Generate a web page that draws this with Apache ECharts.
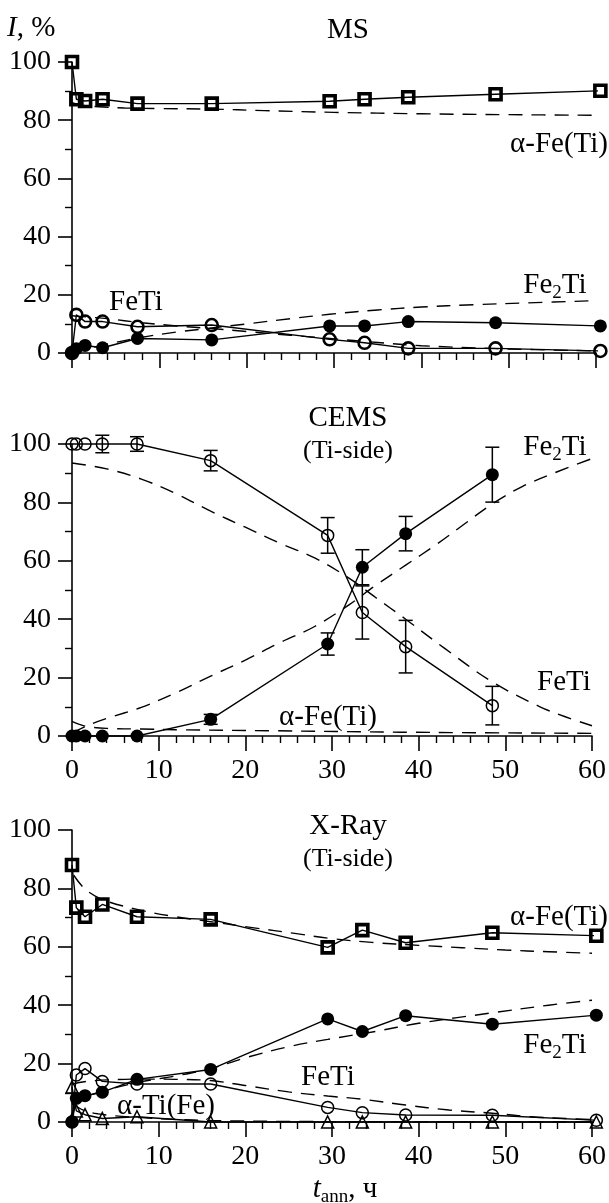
<!DOCTYPE html>
<html>
<head>
<meta charset="utf-8">
<script src="https://cdn.jsdelivr.net/npm/echarts@6/dist/echarts.min.js"></script>
<style>
  html, body { margin: 0; padding: 0; background: #fff; }
  #chart { width: 609px; height: 1203px; }
</style>
</head>
<body>
<div id="chart"></div>
<script>
// Annealing times, h
const hours = [0, 0.5, 1.5, 3.5, 7.5, 16, 29.5, 33.5, 38.5, 48.5, 60.5];
const cemsHours = [0, 0.5, 1.5, 3.5, 7.5, 16, 29.5, 33.5, 38.5, 48.5];

// MS: phase fractions, %
const msAlphaFe = [100, 87.2, 86.6, 87.2, 85.7, 85.7, 86.5, 87.2, 87.9, 88.9, 90.1];
const msFeTi    = [0, 13.1, 10.8, 10.8, 9.0, 9.6, 4.7, 3.5, 1.6, 1.6, 0.7];
const msFe2Ti   = [0, 1.5, 2.6, 1.8, 5.0, 4.5, 9.3, 9.3, 10.8, 10.4, 9.3];

// MS: model curves [t, %]
const msFitAlphaFe = [[0, 86], [1, 85.2], [3, 84.6], [6, 84.2], [10, 84], [16, 83.8], [22, 83.3], [30, 82.7], [40, 82.2], [50, 81.9], [60, 81.7]];
const msFitFeTi = [[0, 12.8], [2, 12.3], [4, 11.8], [8, 10.4], [12, 9.3], [16, 8.4], [20, 7.4], [25, 6.1], [29.5, 5.0], [35, 3.6], [40, 2.5], [48.5, 1.5], [60, 0.7]];
const msFitFe2Ti = [[0, 0], [2, 1.6], [4, 3.0], [8, 5.4], [12, 7.2], [16, 8.6], [20, 10.0], [25, 11.8], [29.5, 13.3], [35, 14.8], [40, 15.8], [46, 16.6], [52, 17.2], [60, 18.0]];

// CEMS (Ti-side): phase fractions and error half-widths, %
const cemsFeTi      = [100, 100, 100, 100, 100, 94.3, 68.7, 42.3, 30.6, 10.4];
const cemsFeTiErr   = [0, 0, 0, 3, 2.5, 3.5, 6.1, 9.1, 9, 6.6];
const cemsFe2Ti     = [0, 0, 0, 0, 0, 5.7, 31.5, 57.8, 69.3, 89.5];
const cemsFe2TiErr  = [0, 0, 0, 0, 0, 1.7, 3.8, 6, 5.9, 9.4];

// CEMS: model curves [t, %]
const cemsFitFeTi = [[0, 93.5], [4, 91.5], [8, 88], [12, 83], [16, 77], [20, 71.5], [24, 66], [28, 61], [32, 54], [35, 47.5], [38.5, 40], [43, 30], [48.5, 18.5], [54, 10], [57, 6.5], [60, 3.5]];
const cemsFitFe2Ti = [[0, 1], [2, 3.8], [4, 6], [8, 9.8], [12, 14.8], [16, 20.5], [20, 26], [24, 32], [28, 37.5], [32, 45], [35, 51.5], [38.5, 58.5], [42, 65.5], [45, 72], [48.5, 79.5], [52, 85.5], [56, 90.5], [60, 95]];
const cemsFitAlphaFe = [[0, 5], [1.5, 3.4], [4, 2.6], [8, 2.4], [13, 2.1], [23, 1.8], [38, 1.3], [60, 0.9]];

// X-Ray (Ti-side): phase fractions, %
const xrAlphaFe = [88, 73.4, 70.3, 74.5, 70.3, 69.4, 59.8, 65.7, 61.4, 64.8, 63.8];
const xrFeTi    = [0, 16.1, 18.3, 13.9, 13.0, 13.0, 5.0, 3.2, 2.4, 2.3, 0.6];
const xrFe2Ti   = [0, 8.1, 9.0, 10.2, 14.6, 18.0, 35.3, 31.0, 36.4, 33.5, 36.6];
const xrAlphaTi = [12, 3.8, 2.5, 1.2, 1.8, 0, 0, 0, 0, 0, 0];

// X-Ray: model curves [t, %]
const xrFitAlphaFe = [[0.2, 84.5], [1.5, 79.8], [3.5, 76.2], [7.5, 72.8], [11.5, 70.5], [16, 68.6], [21, 66.5], [25.7, 64.6], [29.7, 62.9], [34.6, 61.5], [40, 60.5], [45, 59.7], [50, 58.9], [55, 58.3], [60, 57.8]];
const xrFitFeTi = [[0, 13], [2, 14], [5, 14.5], [8, 14.7], [12, 14.6], [16, 14.2], [20, 12.5], [25, 10.3], [29.5, 8.9], [33.5, 7.8], [38.5, 5.8], [43.5, 4.1], [48.5, 3.0], [53, 1.8], [57, 1.2], [60, 0.8]];
const xrFitFe2Ti = [[0, 6], [1.5, 8.5], [3.5, 10.5], [7.5, 13.5], [12, 15.8], [16, 18.3], [20, 22], [25, 25.8], [29.5, 28.3], [35, 31], [40, 33.8], [48.5, 37.4], [55, 40], [60, 41.7]];
const xrFitAlphaTi = [[0, 6.5], [0.5, 5.4], [1.5, 3.8], [3, 2.8], [5, 2.1], [8, 1.5], [12, 0.9], [16, 0.5], [25, 0.2], [40, 0.05], [60, 0]];

// Axis tick values
const timeTicks = { min: 0, max: 60, step: 10 };
const pctTicks = { min: 0, max: 100, step: 20 };

const SERIF = 'Liberation Serif, Times New Roman, serif';
const CLEAR = 'rgba(255,255,255,0)';
const TICK_FONT = 28;
const TEXT_FONT = 29;

const markers = {
  square:   { symbol: 'rect', symbolSize: 11, itemStyle: { color: CLEAR, borderColor: '#000', borderWidth: 3.6 } },
  openBold: { symbol: 'circle', symbolSize: 12, itemStyle: { color: CLEAR, borderColor: '#000', borderWidth: 2.6 } },
  open:     { symbol: 'circle', symbolSize: 12, itemStyle: { color: CLEAR, borderColor: '#000', borderWidth: 1.5 } },
  filled:   { symbol: 'circle', symbolSize: 13, itemStyle: { color: '#000', borderColor: '#000', borderWidth: 0 } },
  triangle: { symbol: 'triangle', symbolSize: 12, itemStyle: { color: CLEAR, borderColor: '#000', borderWidth: 1.5 } }
};

function pairs(ts, vals) { return ts.map((t, i) => [t, vals[i]]); }

function measured(gi, ts, vals, m) {
  return {
    type: 'line', xAxisIndex: gi, yAxisIndex: gi, data: pairs(ts, vals),
    clip: false, showAllSymbol: true, symbol: m.symbol, symbolSize: m.symbolSize,
    itemStyle: m.itemStyle, lineStyle: { color: '#000', width: 1.4 },
    emphasis: { disabled: true }, z: 5
  };
}

function fitted(gi, pts) {
  return {
    type: 'line', xAxisIndex: gi, yAxisIndex: gi, data: pts, symbol: 'none',
    smooth: 0.35, clip: false,
    lineStyle: { color: '#000', width: 1.4, type: [14, 9] },
    emphasis: { disabled: true }, z: 2
  };
}

function errorBars(gi, ts, vals, errs) {
  const data = ts.map((t, i) => [t, vals[i] - errs[i], vals[i] + errs[i], errs[i]]).filter(d => d[3] > 0);
  return {
    type: 'custom', xAxisIndex: gi, yAxisIndex: gi, data, clip: false, z: 4,
    encode: { x: 0, y: [1, 2] },
    renderItem(params, api) {
      const t = api.value(0);
      const lo = api.coord([t, api.value(1)]);
      const hi = api.coord([t, api.value(2)]);
      const cap = 7;
      const style = { stroke: '#000', lineWidth: 1.5, fill: null };
      return {
        type: 'group', children: [
          { type: 'line', shape: { x1: lo[0], y1: lo[1], x2: hi[0], y2: hi[1] }, style },
          { type: 'line', shape: { x1: lo[0] - cap, y1: lo[1], x2: lo[0] + cap, y2: lo[1] }, style },
          { type: 'line', shape: { x1: hi[0] - cap, y1: hi[1], x2: hi[0] + cap, y2: hi[1] }, style }
        ]
      };
    }
  };
}

const axisStroke = { color: '#000', width: 1.6 };

function timeAxis(gi, showLabels) {
  return {
    type: 'value', gridIndex: gi, min: timeTicks.min, max: timeTicks.max, interval: timeTicks.step,
    axisLine: { show: true, onZero: false, lineStyle: axisStroke },
    axisTick: { show: true, inside: false, length: 15, lineStyle: axisStroke },
    minorTick: { show: true, splitNumber: 5, length: 7, lineStyle: { color: '#000', width: 1.4 } },
    axisLabel: { show: showLabels, margin: 21, color: '#000', fontFamily: SERIF, fontSize: TICK_FONT },
    splitLine: { show: false }, minorSplitLine: { show: false }
  };
}

function pctAxis(gi) {
  return {
    type: 'value', gridIndex: gi, min: pctTicks.min, max: pctTicks.max, interval: pctTicks.step,
    axisLine: { show: true, onZero: false, lineStyle: axisStroke },
    axisTick: { show: true, inside: false, length: 14, lineStyle: axisStroke },
    minorTick: { show: true, splitNumber: 2, length: 7, lineStyle: { color: '#000', width: 1.4 } },
    axisLabel: { margin: 21, color: '#000', fontFamily: SERIF, fontSize: TICK_FONT },
    splitLine: { show: false }, minorSplitLine: { show: false }
  };
}

// Rich text styles for phase names and axis titles
const rich = {
  a:  { fontFamily: SERIF, fontSize: TEXT_FONT, lineHeight: 29, verticalAlign: 'top', fill: '#000' },
  s:  { fontFamily: SERIF, fontSize: 19, lineHeight: 19, verticalAlign: 'top', padding: [13, 0, 0, 0], fill: '#000' },
  i:  { fontFamily: SERIF, fontSize: TEXT_FONT, lineHeight: 29, verticalAlign: 'top', fontStyle: 'italic', fill: '#000' },
  si: { fontFamily: SERIF, fontSize: 19, lineHeight: 19, verticalAlign: 'top', padding: [13, 0, 0, 0], fill: '#000' }
};

function label(text, x, y, align, size) {
  return {
    type: 'text', x, y, silent: true,
    style: {
      text, rich, align: align || 'center', verticalAlign: 'middle',
      fontFamily: SERIF, fontSize: size || TEXT_FONT, fill: '#000'
    }
  };
}

const FE2TI = '{a|Fe}{s|2}{a|Ti}';

const option = {
  animation: false,
  backgroundColor: '#fff',
  grid: [
    { left: 72, width: 524, top: 62, height: 291 },
    { left: 72, width: 524, top: 444, height: 292 },
    { left: 72, width: 524, top: 830, height: 292 }
  ],
  xAxis: [timeAxis(0, false), timeAxis(1, true), timeAxis(2, true)],
  yAxis: [pctAxis(0), pctAxis(1), pctAxis(2)],
  series: [
    // MS
    fitted(0, msFitAlphaFe), fitted(0, msFitFeTi), fitted(0, msFitFe2Ti),
    measured(0, hours, msFe2Ti, markers.filled),
    measured(0, hours, msFeTi, markers.openBold),
    measured(0, hours, msAlphaFe, markers.square),
    // CEMS
    fitted(1, cemsFitFeTi), fitted(1, cemsFitFe2Ti), fitted(1, cemsFitAlphaFe),
    errorBars(1, cemsHours, cemsFeTi, cemsFeTiErr),
    errorBars(1, cemsHours, cemsFe2Ti, cemsFe2TiErr),
    measured(1, cemsHours, cemsFeTi, markers.open),
    measured(1, cemsHours, cemsFe2Ti, markers.filled),
    // X-Ray
    fitted(2, xrFitAlphaFe), fitted(2, xrFitFeTi), fitted(2, xrFitFe2Ti), fitted(2, xrFitAlphaTi),
    measured(2, hours, xrAlphaTi, markers.triangle),
    measured(2, hours, xrFe2Ti, markers.filled),
    measured(2, hours, xrFeTi, markers.open),
    measured(2, hours, xrAlphaFe, markers.square)
  ],
  graphic: [
    label('{i|I}{a|, %}', 7, 28, 'left'),
    label('MS', 348, 30),
    label('α-Fe(Ti)', 608, 144, 'right'),
    label('FeTi', 136, 302),
    label(FE2TI, 555, 285),

    label('CEMS', 348, 418),
    label('(Ti-side)', 348, 451, 'center', 26),
    label(FE2TI, 555, 447),
    label('FeTi', 564, 682),
    label('α-Fe(Ti)', 328, 717),

    label('X-Ray', 348, 826),
    label('(Ti-side)', 348, 859, 'center', 26),
    label('α-Fe(Ti)', 608, 917, 'right'),
    label(FE2TI, 555, 1045),
    label('FeTi', 328, 1077),
    label('α-Ti(Fe)', 166, 1106),
    label('{i|t}{si|ann}{a|, ч}', 345, 1189)
  ]
};

echarts.init(document.getElementById('chart'), null, { renderer: 'canvas' }).setOption(option);
</script>
</body>
</html>
